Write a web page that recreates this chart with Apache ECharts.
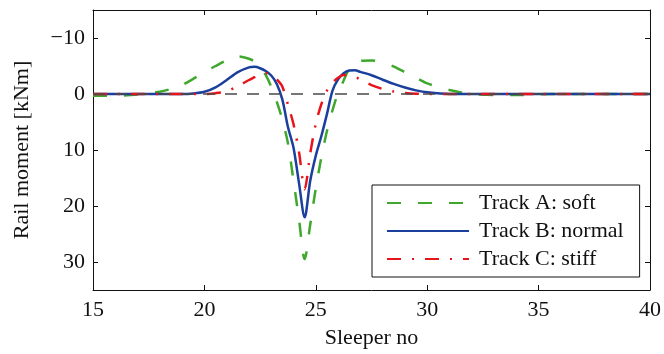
<!DOCTYPE html>
<html>
<head>
<meta charset="utf-8">
<script src="https://cdn.jsdelivr.net/npm/echarts@6/dist/echarts.min.js"></script>
<style>
  html, body { margin: 0; padding: 0; background: #fff; }
  #chart { width: 664px; height: 354px; }
</style>
</head>
<body>
<div id="chart"></div>
<script>
// Sleeper positions along the track
const sleeperNo = [15,16,17,18,18.5,19,19.5,20,20.5,21,21.5,22,
  22.25,22.5,22.75,23,23.25,23.5,23.75,24,24.25,24.5,24.75,25,25.25,25.5,25.75,26,26.25,26.5,26.75,27,
  27.5,28,28.5,29,29.5,30,31,32,33,34,35,36,37,38,39,40];

// Rail bending moment [kNm] for each track type
const trackA = [0.3,0.3,0.1,-0.4,-0.9,-1.6,-2.7,-3.9,-5.0,-6.0,-6.7,-6.3,
  -5.8,-5.0,-3.4,-1.3,1.4,4.6,8.8,15.5,22.5,29.5,23.3,16.8,11.3,6.6,2.9,-0.2,-2.4,-4.5,-5.4,-5.9,
  -6.0,-5.6,-4.9,-3.9,-2.9,-1.9,-0.7,0.0,0.2,0.2,0.05,0,0,0,0,0];
const trackB = [0,0,0,0,0,0,-0.1,-0.4,-1.2,-2.5,-3.9,-4.75,
  -4.85,-4.6,-4.1,-3.3,-1.8,1.0,5.9,9.6,16.0,22.0,15.5,11.0,7.5,3.6,-0.6,-2.6,-3.7,-4.2,-4.25,-3.95,
  -3.35,-2.55,-1.8,-1.15,-0.65,-0.3,0,0,0,0,0,0,0,0,0,0];
const trackC = [0,0,0,0,0,0,0,0,-0.15,-0.5,-1.4,-2.5,
  -3.0,-3.5,-3.7,-3.4,-2.6,-1.3,1.9,5.4,10.5,17.0,10.6,5.3,1.8,-0.6,-2.0,-2.9,-3.4,-3.4,-3.1,-2.6,
  -1.6,-0.9,-0.45,-0.2,-0.05,0,0,0,0,0,0,0,0,0,0,0];

const seriesNames = ['Track A: soft', 'Track B: normal', 'Track C: stiff'];
const yTicks = [-10, 0, 10, 20, 30];
const xTicks = [15, 20, 25, 30, 35, 40];

const pairs = (ys) => sleeperNo.map((x, i) => [x, ys[i]]);
const font = 'Liberation Serif';
const ink = '#111';

const chart = echarts.init(document.getElementById('chart'), null, { renderer: 'canvas' });

const tickStyle = { show: true, inside: true, length: 5, lineStyle: { color: ink, width: 1 } };

chart.setOption({
  animation: false,
  backgroundColor: '#fff',
  grid: { left: 93, right: 12, top: 10, bottom: 63, containLabel: false },
  xAxis: [{
    type: 'value', min: 15, max: 40, interval: 5,
    name: 'Sleeper no', nameLocation: 'middle', nameGap: 37,
    nameTextStyle: { fontFamily: font, fontSize: 22, color: ink },
    axisLine: { show: true, onZero: false, lineStyle: { color: ink, width: 1 } },
    axisTick: tickStyle,
    axisLabel: { margin: 9, fontFamily: font, fontSize: 22, color: ink,
      customValues: xTicks },
    splitLine: { show: false }
  }, {
    type: 'value', min: 15, max: 40, interval: 5, position: 'top',
    axisLine: { show: true, onZero: false, lineStyle: { color: ink, width: 1 } },
    axisTick: tickStyle,
    axisLabel: { show: false },
    splitLine: { show: false }
  }],
  yAxis: [{
    type: 'value', min: -15, max: 35, inverse: true,
    name: 'Rail moment [kNm]', nameLocation: 'middle', nameGap: 60,
    nameTextStyle: { fontFamily: font, fontSize: 22, color: ink },
    axisLine: { show: true, onZero: false, lineStyle: { color: ink, width: 1 } },
    axisTick: Object.assign({}, tickStyle, { customValues: yTicks }),
    axisLabel: { margin: 8, fontFamily: font, fontSize: 22, color: ink,
      customValues: yTicks,
      formatter: (v) => String(v).replace('-', '\u2212') },
    splitLine: { show: false }
  }, {
    type: 'value', min: -15, max: 35, inverse: true, position: 'right',
    axisLine: { show: true, onZero: false, lineStyle: { color: ink, width: 1 } },
    axisTick: Object.assign({}, tickStyle, { customValues: yTicks }),
    axisLabel: { show: false },
    splitLine: { show: false }
  }],
  legend: {
    data: seriesNames,
    orient: 'vertical', align: 'left',
    left: 372, top: 185,
    padding: [7, 16, 7, 14],
    itemWidth: 82, itemHeight: 14, itemGap: 6,
    borderColor: ink, borderWidth: 1,
    backgroundColor: '#fff',
    itemStyle: { color: 'transparent', borderWidth: 0, opacity: 0 },
    textStyle: { fontFamily: font, fontSize: 22, color: ink, lineHeight: 22, padding: [0, 0, 0, 5] }
  },
  series: [{
    name: seriesNames[0], type: 'line', data: pairs(trackA),
    smooth: 0.3, symbol: 'none',
    lineStyle: { color: '#3fa82c', width: 2.5, type: [14, 17] },
    itemStyle: { color: '#3fa82c' }
  }, {
    name: seriesNames[1], type: 'line', data: pairs(trackB),
    smooth: 0.3, symbol: 'none',
    lineStyle: { color: '#1b3f9c', width: 2.5, type: 'solid' },
    itemStyle: { color: '#1b3f9c' }
  }, {
    name: seriesNames[2], type: 'line', data: pairs(trackC),
    smooth: 0.3, symbol: 'none',
    lineStyle: { color: '#e8141c', width: 2.5, type: [14, 11, 2, 11] },
    itemStyle: { color: '#e8141c' }
  }, {
    // zero reference line
    name: 'zero', type: 'line', data: [[15, 0], [40, 0]],
    symbol: 'none', silent: true,
    lineStyle: { color: '#4a4a4a', width: 1.5, type: [12, 10] }
  }]
});
</script>
</body>
</html>
